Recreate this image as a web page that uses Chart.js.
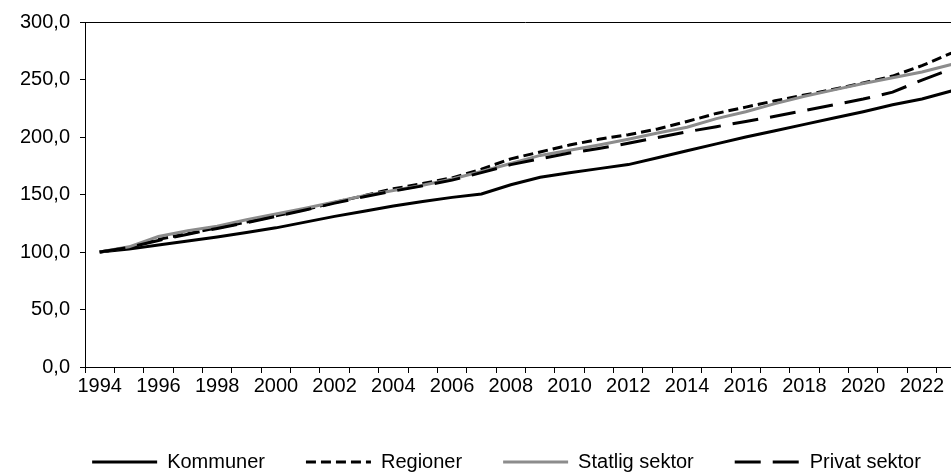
<!DOCTYPE html>
<html>
<head>
<meta charset="utf-8">
<script src="https://cdn.jsdelivr.net/npm/chart.js@4.4.1/dist/chart.umd.min.js"></script>
<style>
  html, body { margin: 0; padding: 0; background: #fff; }
  #wrap { width: 951px; height: 473px; overflow: hidden; position: relative; }
  canvas { display: block; }
</style>
</head>
<body>
<div id="wrap"><canvas id="chart" width="1013" height="482"></canvas></div>
<script>
const years = ['1994', '1995', '1996', '1997', '1998', '1999', '2000', '2001', '2002', '2003',
    '2004', '2005', '2006', '2007', '2008', '2009', '2010', '2011', '2012', '2013',
    '2014', '2015', '2016', '2017', '2018', '2019', '2020', '2021', '2022', '2023'];

const kommuner = [100, 102.5, 106, 109.5, 113, 117, 121, 126, 131, 135.5,
    140, 144, 147.5, 150.5, 158.5, 165, 169, 172.5, 176, 182,
    188, 194, 200, 205.5, 211, 216.5, 222, 228, 233, 240];
const regioner = [100, 104, 111, 116, 121, 126, 131.5, 137, 143, 149,
    155, 159.5, 164.5, 172, 181, 187, 193, 198, 202, 207,
    213.5, 220.5, 226, 231.5, 236.5, 241.5, 247, 253, 262, 273];
const statlig = [100, 104.5, 113.5, 118.5, 122.5, 128, 133, 138, 143.5, 149,
    153.5, 158, 163.5, 170, 177, 184, 188.5, 193, 198, 203.5,
    208.5, 216, 222, 229, 235.5, 241, 246.5, 251.5, 256.5, 263];
const privat = [100, 104, 110, 115.5, 120.5, 125.5, 131, 136.5, 142.5, 148,
    153, 157.5, 162.5, 169, 176, 181, 186, 190, 194.5, 199.5,
    204.5, 209, 213.5, 218, 223, 228, 233, 239, 249.5, 259];

const seriesNames = ['Kommuner', 'Regioner', 'Statlig sektor', 'Privat sektor'];
const yTicks = [0, 50, 100, 150, 200, 250, 300];

const font = { family: "'Liberation Sans', Arial, sans-serif", size: 20 };

function line(label, data, color, dash, order) {
    return {
        label: label,
        data: data,
        borderColor: color,
        backgroundColor: color,
        borderWidth: 3,
        borderDash: dash,
        pointRadius: 0,
        tension: 0,
        fill: false,
        order: order
    };
}

// top edge of the plot area, and legend centred a bit to the right
const tweaks = {
    id: 'tweaks',
    beforeDraw(chart) {
        chart.legend.left = 47;
    },
    afterDraw(chart) {
        const a = chart.chartArea;
        const c = chart.ctx;
        c.save();
        c.strokeStyle = '#000';
        c.lineWidth = 1;
        c.beginPath();
        c.moveTo(a.left, a.top + 0.5);
        c.lineTo(a.right, a.top + 0.5);
        c.stroke();
        c.restore();
    }
};

const ctx = document.getElementById('chart').getContext('2d');
new Chart(ctx, {
    type: 'line',
    data: {
        labels: years,
        datasets: [
            line(seriesNames[0], kommuner, '#000000', [], 4),
            line(seriesNames[1], regioner, '#000000', [10, 5], 3),
            line(seriesNames[2], statlig, '#8c8c8c', [], 2),
            line(seriesNames[3], privat, '#000000', [26, 12], 1)
        ]
    },
    options: {
        responsive: false,
        animation: false,
        devicePixelRatio: 1,
        layout: { padding: { left: 0, top: 21, right: 47, bottom: 0 } },
        plugins: {
            tooltip: { enabled: false },
            legend: {
                position: 'bottom',
                labels: {
                    color: '#000',
                    font: font,
                    usePointStyle: true,
                    pointStyle: 'line',
                    pointStyleWidth: 65,
                    padding: 41,
                    sort: (a, b) => a.datasetIndex - b.datasetIndex,
                    generateLabels: function (chart) {
                        const items = Chart.defaults.plugins.legend.labels.generateLabels(chart);
                        items.forEach(item => {
                            const ds = chart.data.datasets[item.datasetIndex];
                            item.lineDash = ds.borderDash;
                            item.lineWidth = ds.borderWidth;
                            item.strokeStyle = ds.borderColor;
                            item.fillStyle = ds.borderColor;
                        });
                        return items;
                    }
                }
            }
        },
        scales: {
            x: {
                offset: true,
                grid: {
                    offset: true,
                    drawOnChartArea: false,
                    drawTicks: true,
                    tickLength: 6,
                    tickColor: '#000'
                },
                border: { display: true, color: '#000', width: 1 },
                ticks: {
                    color: '#000',
                    font: font,
                    autoSkip: false,
                    maxRotation: 0,
                    padding: 1,
                    callback: function (v, i) { return i % 2 === 0 ? this.getLabelForValue(v) : ''; }
                },
                afterFit: function (scale) { scale.height = 44; }
            },
            y: {
                min: 0,
                max: 300,
                afterBuildTicks: function (scale) { scale.ticks = yTicks.map(v => ({ value: v })); },
                grid: {
                    drawOnChartArea: false,
                    drawTicks: true,
                    tickLength: 5,
                    tickColor: '#000'
                },
                border: { display: true, color: '#000', width: 1 },
                ticks: {
                    color: '#000',
                    font: font,
                    padding: 10,
                    callback: v => v.toFixed(1).replace('.', ',')
                },
                afterFit: function (scale) { scale.width = 85; }
            }
        }
    },
    plugins: [tweaks]
});
</script>
</body>
</html>
